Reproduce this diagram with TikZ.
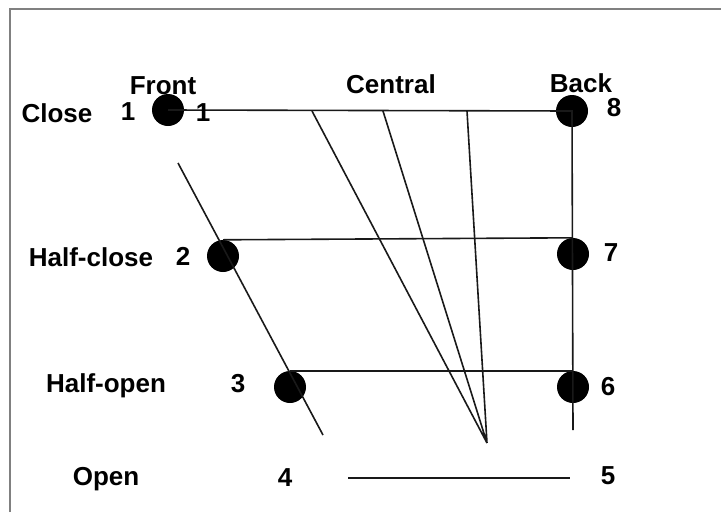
\documentclass[tikz,border=0pt]{standalone}
\usepackage{fontspec}
\setmainfont{Liberation Sans}
\usepackage{tikz}

\tikzset{
  vowel/.style={circle,fill=black,inner sep=0pt,minimum size=32pt},
  lbl/.style={font=\fontsize{26}{30}\selectfont\bfseries,inner sep=0pt},
  tongue/.style={line width=1.6pt,black!90}
}

\begin{document}
\begin{tikzpicture}[x=1pt,y=-1pt]
            \useasboundingbox (0,0) rectangle (721,512);
            \draw[line width=2pt,black!50] (10,512)--(10,9)--(721,9);   % frame, top and left only
            % vowel positions
            \node[vowel] (v1) at (168,110) {};
            \node[vowel] (v2) at (223,256) {};
            \node[vowel] (v3) at (290,387) {};
            \node[vowel] (v6) at (573,387) {};
            \node[vowel] (v7) at (573,254) {};
            \node[vowel] (v8) at (572,111) {};
            % free ends of the lines
            \coordinate (ftop) at (178,163);
            \coordinate (fbot) at (323,435);
            \coordinate (bbot) at (573,430);
            \coordinate (c1) at (312,111);
            \coordinate (c2) at (383,111);
            \coordinate (c3) at (467,111);
            \coordinate (apex) at (487,443);
            \coordinate (o4) at (348,478);
            \coordinate (o5) at (570,478);
            \draw[tongue] (v1.center)--(v8.center)--(bbot);               % close line and back edge
            \draw[tongue] (v2.north)--(v7.north);                         % half-close
            \draw[tongue] (v3.north)--(v6.north);                         % half-open
            \draw[tongue] (ftop)--(fbot);                                 % front edge
            \draw[tongue] (c1)--(apex) (c2)--(apex) (c3)--(apex);         % central lines
            \draw[tongue] (o4)--(o5);                                     % open
            % labels
            \node[lbl] (front) at (163,86) {Front};
            \node[lbl] (central) at (391,84) {Central};
            \node[lbl] (back) at (581,83) {Back};
            \node[lbl] (close) at (57,113) {Close};
            \node[lbl] (n1) at (128,112) {1};
            \node[lbl] (n1b) at (203,113) {1};
            \node[lbl] (n8) at (614,108) {8};
            \node[lbl] (hclose) at (91,257) {Half-close};
            \node[lbl] (n2) at (183,256) {2};
            \node[lbl] (n7) at (611,253) {7};
            \node[lbl] (hopen) at (106,386) {Half-open};
            \node[lbl] (n3) at (238,384) {3};
            \node[lbl] (n6) at (608,387) {6};
            \node[lbl] (open) at (106,479) {Open};
            \node[lbl] (n4) at (285,478) {4};
            \node[lbl] (n5) at (608,476) {5};
        \end{tikzpicture}
\end{document}
